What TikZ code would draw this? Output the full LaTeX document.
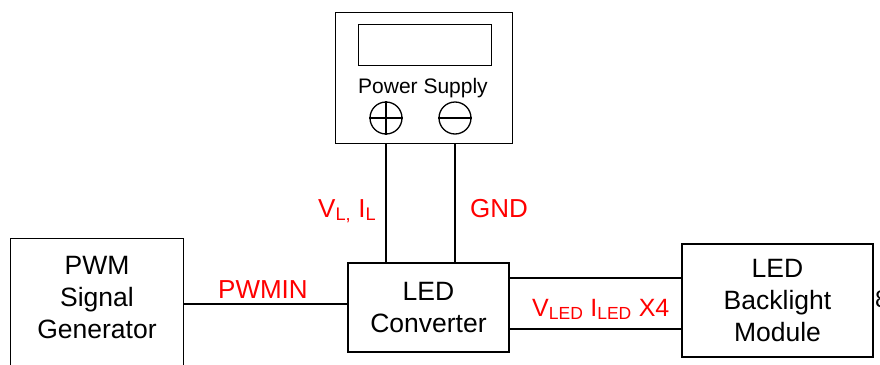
\documentclass[tikz,border=0pt]{standalone}
\usepackage{fontspec}
\setmainfont{Liberation Sans}
\usepackage{tikz}
\usetikzlibrary{calc,positioning}

\begin{document}
\begin{tikzpicture}[x=1pt,y=-1pt,
  blk/.style={draw,line width=1.3pt,inner sep=0pt},
  lbl/.style={font=\fontsize{26.5}{32}\selectfont,align=center},
  sig/.style={text=red,font=\fontsize{26}{30}\selectfont,anchor=base west,inner sep=0pt},
  wire/.style={line width=1.3pt}]
\useasboundingbox (0,0) rectangle (880,364);
\clip (0,0) rectangle (880,364);
\node[blk,minimum width=177pt,minimum height=131pt,anchor=north west] (ps) at (335,12) {};
\node[blk,minimum width=133pt,minimum height=41pt,anchor=north west] (disp) at (358,24) {};
\node[font=\fontsize{21}{24}\selectfont,anchor=base] (pstxt) at (423,93) {Power Supply};
\node[circle,blk,minimum size=32pt] (plus) at (386,118) {};
\draw[wire] (plus.north) -- (plus.south) (plus.west) -- (plus.east);
\node[circle,blk,minimum size=32pt] (minus) at (455,118) {};
\draw[wire] (minus.west) -- (minus.east);
\node[blk,lbl,minimum width=161pt,minimum height=89pt] (conv) at (428.5,307.5) {LED\\Converter};
\node[blk,lbl,minimum width=191pt,minimum height=113pt] (bl) at (777.5,300.5) {LED\\Backlight\\Module};
\node[blk,minimum width=173pt,minimum height=150pt,anchor=north west] (pwm) at (10,238) {};
\node[lbl] (pwmtxt) at (97,298) {PWM\\Signal\\Generator};
\draw[wire] (ps.south -| plus) -- (conv.north -| plus);
\draw[wire] (ps.south -| minus) -- (conv.north -| minus);
\draw[wire] (pwm.east |- 0,304) -- (conv.west |- 0,304);
\draw[wire] (conv.east |- 0,278) -- (bl.west |- 0,278);
\draw[wire] (conv.east |- 0,329) -- (bl.west |- 0,329);
\node[sig] (vl) at (318,217) {V\textsubscript{L,} I\textsubscript{L}};
\node[sig] (gnd) at (470,217) {GND};
\node[sig] (pwmin) at (218,298) {PWMIN};
\node[sig,font=\fontsize{25}{30}\selectfont] (vled) at (532,316) {V\textsubscript{LED} I\textsubscript{LED} X4};
\node[font=\fontsize{24}{28}\selectfont,anchor=base west,inner sep=0pt] (cut) at (875,307) {8};
\end{tikzpicture}
\end{document}
